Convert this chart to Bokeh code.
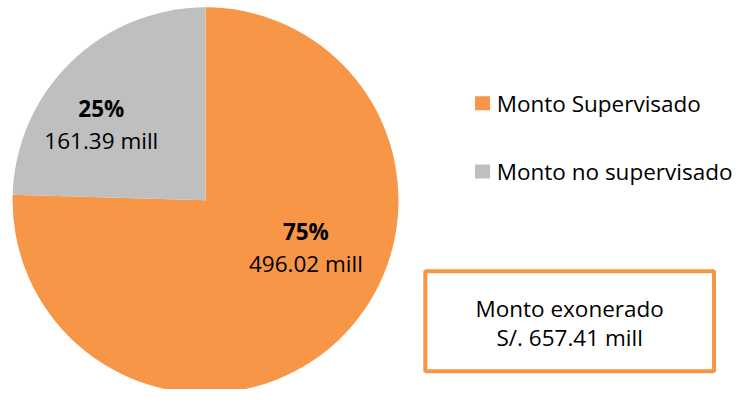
import math
from bokeh.plotting import figure
from bokeh.models import ColumnDataSource, Range1d
from bokeh.embed import file_html
from bokeh.resources import INLINE
from bokeh.core.properties import value

# ---- data ----
categories = ["Monto Supervisado", "Monto no supervisado"]
amounts = [496.02, 161.39]
colors = ["#F79646", "#BFBFBF"]
pct_labels = ["75%", "25%"]
amount_labels = ["496.02 mill", "161.39 mill"]
total_lines = ["Monto exonerado", "S/. 657.41 mill"]

# ---- layout (reference pixel coordinates, scaled to the figure) ----
W, H = 738, 389
SX, SY = W / 754, H / 405
def X(px):
    return px * SX
def Y(py):
    return H - py * SY

FONT = value("Open Sans")
TXT = "#000000"
SZ = "22.5px"

p = figure(width=W, height=H, x_range=Range1d(0, W), y_range=Range1d(0, H),
           output_backend="svg", toolbar_location=None, min_border=0)
p.axis.visible = False
p.grid.visible = False
p.outline_line_color = None
p.background_fill_color = "white"
p.border_fill_color = "white"

# pie: clockwise from 12 o'clock
total = sum(amounts)
starts, ends = [], []
a = math.pi / 2
for v in amounts:
    e = a - 2 * math.pi * v / total
    starts.append(e)
    ends.append(a)
    a = e
src = ColumnDataSource(dict(start=starts, end=ends, color=colors, cat=categories))
p.wedge(x=X(209.5), y=Y(208), radius=199 * (SX + SY) / 2, start_angle="start",
        end_angle="end", fill_color="color", line_color=None, source=src)

# slice labels
lab_x = [X(312), X(103)]
pct_y = [Y(240.5), Y(112.5)]
amt_y = [Y(274), Y(146)]
p.text(x=lab_x, y=pct_y, text=pct_labels, text_font=FONT, text_font_size=SZ,
       text_font_style="bold", text_color=TXT, text_align="center", text_baseline="middle")
p.text(x=lab_x, y=amt_y, text=amount_labels, text_font=FONT, text_font_size=SZ,
       text_color=TXT, text_align="center", text_baseline="middle")

# legend
leg_y = [Y(107), Y(178)]
p.rect(x=[X(492.5)] * len(categories), y=leg_y, width=15, height=14,
       fill_color=colors, line_color=None)
p.text(x=[X(507)] * len(categories), y=leg_y, text=categories, text_font=FONT,
       text_font_size=SZ, text_color=TXT, text_align="left", text_baseline="middle")

# total box
p.quad(left=X(434), right=X(729), top=Y(282), bottom=Y(386), fill_color="white",
       line_color="#F79646", line_width=4)
p.text(x=[X(581.5)] * 2, y=[Y(321), Y(351)], text=total_lines, text_font=FONT,
       text_font_size=SZ, text_color=TXT, text_align="center", text_baseline="middle")

open("out.html", "w").write(file_html(p, INLINE))
